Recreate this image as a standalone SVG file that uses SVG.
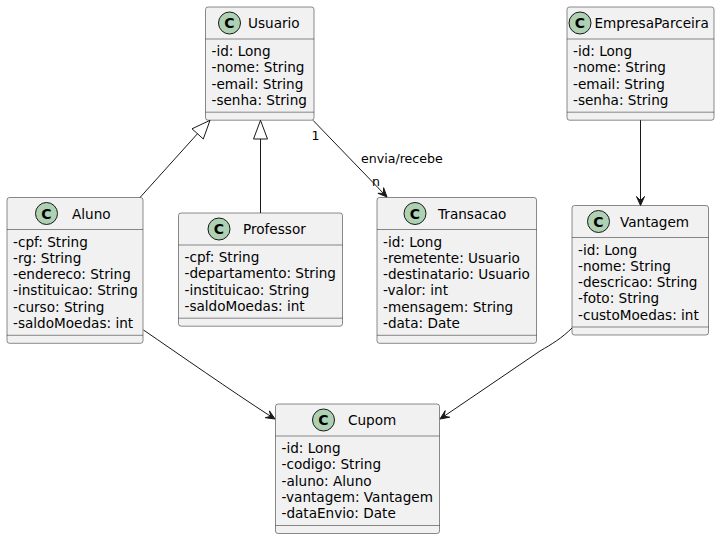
<svg xmlns="http://www.w3.org/2000/svg" width="720" height="539" viewBox="0 0 720 539">
<style>
.box{fill:#F1F1F1;stroke:#181818;stroke-width:0.5}
.sep{stroke:#181818;stroke-width:0.5}
.circ{fill:#ADD1B2;stroke:#181818;stroke-width:1}
.c{font-family:"DejaVu Sans",sans-serif;font-size:14px;font-weight:bold;fill:#000;text-anchor:middle}
.t{font-family:"DejaVu Sans",sans-serif;font-size:13.6px;fill:#000}
.l{font-family:"DejaVu Sans",sans-serif;font-size:12.6px;fill:#000}
.edge{fill:none;stroke:#181818;stroke-width:1}
.head{fill:#181818;stroke:#181818;stroke-width:1}
.tri{fill:none;stroke:#181818;stroke-width:1}
</style>
<rect width="720" height="539" fill="#FFFFFF"/>
<g id="Usuario">
<rect class="box" x="205.5" y="7" width="108.5" height="113.2" rx="2.5"/>
<circle class="circ" cx="229.5" cy="23" r="11"/><text class="c" x="229.5" y="28">C</text>
<text class="t" x="248" y="28.3">Usuario</text>
<line class="sep" x1="205.5" y1="39" x2="314" y2="39"/>
<text class="t" x="211.5" y="56">-id: Long</text>
<text class="t" x="211.5" y="72.3">-nome: String</text>
<text class="t" x="211.5" y="88.6">-email: String</text>
<text class="t" x="211.5" y="104.9">-senha: String</text>
<line class="sep" x1="205.5" y1="112.2" x2="314" y2="112.2"/>
</g>
<g id="EmpresaParceira">
<rect class="box" x="567" y="7" width="147" height="113.2" rx="2.5"/>
<circle class="circ" cx="580" cy="23" r="11"/><text class="c" x="580" y="28">C</text>
<text class="t" x="594.5" y="28.3">EmpresaParceira</text>
<line class="sep" x1="567" y1="39" x2="714" y2="39"/>
<text class="t" x="573" y="56">-id: Long</text>
<text class="t" x="573" y="72.3">-nome: String</text>
<text class="t" x="573" y="88.6">-email: String</text>
<text class="t" x="573" y="104.9">-senha: String</text>
<line class="sep" x1="567" y1="112.2" x2="714" y2="112.2"/>
</g>
<g id="Aluno">
<rect class="box" x="7" y="197.5" width="136" height="145.8" rx="2.5"/>
<circle class="circ" cx="46.5" cy="213.5" r="11"/><text class="c" x="46.5" y="218.5">C</text>
<text class="t" x="72" y="218.8">Aluno</text>
<line class="sep" x1="7" y1="229.5" x2="143" y2="229.5"/>
<text class="t" x="13" y="246.5">-cpf: String</text>
<text class="t" x="13" y="262.8">-rg: String</text>
<text class="t" x="13" y="279.1">-endereco: String</text>
<text class="t" x="13" y="295.4">-instituicao: String</text>
<text class="t" x="13" y="311.7">-curso: String</text>
<text class="t" x="13" y="328">-saldoMoedas: int</text>
<line class="sep" x1="7" y1="335.3" x2="143" y2="335.3"/>
</g>
<g id="Professor">
<rect class="box" x="178.5" y="213" width="164" height="113.2" rx="2.5"/>
<circle class="circ" cx="219" cy="229" r="11"/><text class="c" x="219" y="234">C</text>
<text class="t" x="243" y="234.3">Professor</text>
<line class="sep" x1="178.5" y1="245" x2="342.5" y2="245"/>
<text class="t" x="184.5" y="262">-cpf: String</text>
<text class="t" x="184.5" y="278.3">-departamento: String</text>
<text class="t" x="184.5" y="294.6">-instituicao: String</text>
<text class="t" x="184.5" y="310.9">-saldoMoedas: int</text>
<line class="sep" x1="178.5" y1="318.2" x2="342.5" y2="318.2"/>
</g>
<g id="Transacao">
<rect class="box" x="377" y="197.5" width="159.5" height="145.8" rx="2.5"/>
<circle class="circ" cx="415" cy="213.5" r="11"/><text class="c" x="415" y="218.5">C</text>
<text class="t" x="438" y="218.8">Transacao</text>
<line class="sep" x1="377" y1="229.5" x2="536.5" y2="229.5"/>
<text class="t" x="383" y="246.5">-id: Long</text>
<text class="t" x="383" y="262.8">-remetente: Usuario</text>
<text class="t" x="383" y="279.1">-destinatario: Usuario</text>
<text class="t" x="383" y="295.4">-valor: int</text>
<text class="t" x="383" y="311.7">-mensagem: String</text>
<text class="t" x="383" y="328">-data: Date</text>
<line class="sep" x1="377" y1="335.3" x2="536.5" y2="335.3"/>
</g>
<g id="Vantagem">
<rect class="box" x="572" y="205.5" width="136.5" height="129.5" rx="2.5"/>
<circle class="circ" cx="598.5" cy="221.5" r="11"/><text class="c" x="598.5" y="226.5">C</text>
<text class="t" x="620" y="226.8">Vantagem</text>
<line class="sep" x1="572" y1="237.5" x2="708.5" y2="237.5"/>
<text class="t" x="578" y="254.5">-id: Long</text>
<text class="t" x="578" y="270.8">-nome: String</text>
<text class="t" x="578" y="287.1">-descricao: String</text>
<text class="t" x="578" y="303.4">-foto: String</text>
<text class="t" x="578" y="319.7">-custoMoedas: int</text>
<line class="sep" x1="572" y1="327" x2="708.5" y2="327"/>
</g>
<g id="Cupom">
<rect class="box" x="275.5" y="404" width="164" height="129.5" rx="2.5"/>
<circle class="circ" cx="323.5" cy="420" r="11"/><text class="c" x="323.5" y="425">C</text>
<text class="t" x="348" y="425.3">Cupom</text>
<line class="sep" x1="275.5" y1="436" x2="439.5" y2="436"/>
<text class="t" x="281.5" y="453">-id: Long</text>
<text class="t" x="281.5" y="469.3">-codigo: String</text>
<text class="t" x="281.5" y="485.6">-aluno: Aluno</text>
<text class="t" x="281.5" y="501.9">-vantagem: Vantagem</text>
<text class="t" x="281.5" y="518.2">-dataEnvio: Date</text>
<line class="sep" x1="275.5" y1="525.5" x2="439.5" y2="525.5"/>
</g>
<g id="connectors">
<path class="edge" d="M140,197.5 L197.6,133.6"/>
<polygon class="tri" points="210,120.3 203.3,139 192,128.8"/>
<path class="edge" d="M260.5,213 L260.5,139"/>
<polygon class="tri" points="260.5,120.3 267.5,139 253.5,139"/>
<path class="edge" d="M313,120.3 L383.5,193.4"/>
<polygon class="head" points="387,197 377.9,193.3 383.5,193.4 383.6,187.7"/>
<text class="l" x="311.5" y="140">1</text>
<text class="l" x="361" y="163">envia/recebe</text>
<text class="l" x="372" y="186">n</text>
<path class="edge" d="M640.5,120.2 L640.5,200.5"/>
<polygon class="head" points="640.5,205.5 636.5,196.5 640.5,200.5 644.5,196.5"/>
<path class="edge" d="M143.5,330 C180,355 230,390 270.75,416.37"/>
<polygon class="head" points="275,419 265.24,417.66 270.75,416.37 269.46,410.86"/>
<path class="edge" d="M572,328 C562,338 552,344 540,351 L444.13,416.19"/>
<polygon class="head" points="440,419 445.18,410.63 444.13,416.19 449.68,417.23"/>
</g>
</svg>
